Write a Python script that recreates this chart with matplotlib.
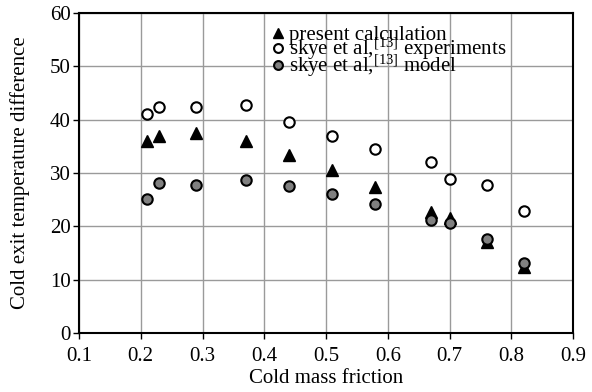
import numpy as np
import matplotlib
matplotlib.use("Agg")
import matplotlib.pyplot as plt

plt.rcParams['font.family'] = ['Liberation Serif', 'DejaVu Serif']
plt.rcParams['mathtext.fontset'] = 'custom'
plt.rcParams['mathtext.rm'] = 'Liberation Serif'
plt.rcParams['mathtext.default'] = 'regular'

# data
cold_frac = [0.21, 0.23, 0.29, 0.37, 0.44, 0.51, 0.58, 0.67, 0.70, 0.76, 0.82]
present_calc = [36.0, 37.0, 37.5, 36.0, 33.3, 30.5, 27.4, 22.7, 21.6, 17.1, 12.3]
skye_exp = [41.0, 42.3, 42.3, 42.7, 39.5, 37.0, 34.5, 32.0, 28.8, 27.7, 22.9]
skye_model = [25.2, 28.1, 27.7, 28.7, 27.5, 26.0, 24.2, 21.2, 20.6, 17.6, 13.1]

xticks = [0.1, 0.2, 0.3, 0.4, 0.5, 0.6, 0.7, 0.8, 0.9]
yticks = [0, 10, 20, 30, 40, 50, 60]

fs = 15

fig = plt.figure(figsize=(5.92, 3.92), dpi=100)
ax = fig.add_axes([79/592, 1-333/392, (573-79)/592, (333-13)/392])

ax.plot(cold_frac, present_calc, ls='none', marker='^', ms=8, color='black',
        label='present calculation')
ax.plot(cold_frac, skye_exp, ls='none', marker='o', ms=7.5, mfc='white', mec='black',
        mew=1.5, label=r'skye et al,$^{[13]}$ experiments')
ax.plot(cold_frac, skye_model, ls='none', marker='o', ms=7.5, mfc='#808080', mec='black',
        mew=1.5, label=r'skye et al,$^{[13]}$ model')

ax.set_xlim(0.1, 0.9)
ax.set_ylim(0, 60)
ax.set_xticks(xticks)
ax.set_yticks(yticks)
ax.set_xticklabels([str(t) for t in xticks])
ax.grid(True, color='#9a9a9a', lw=1)
ax.set_axisbelow(True)
for s in ax.spines.values():
    s.set_linewidth(1.5)
ax.tick_params(direction='out', length=4, width=1, labelsize=fs)
ax.tick_params(axis='x', pad=6)
ax.tick_params(axis='y', pad=2)
ax.set_xlabel('Cold mass friction', fontsize=fs, labelpad=2)
ax.set_ylabel('Cold exit temperature difference', fontsize=fs, labelpad=14)

ax.legend(loc='upper left', bbox_to_anchor=(0.392, 0.96), frameon=False, fontsize=fs,
          handlelength=0.5, handletextpad=0.3, labelspacing=-0.45, borderpad=0,
          borderaxespad=0, markerscale=0.85)

fig.savefig('out.png', dpi=100)
